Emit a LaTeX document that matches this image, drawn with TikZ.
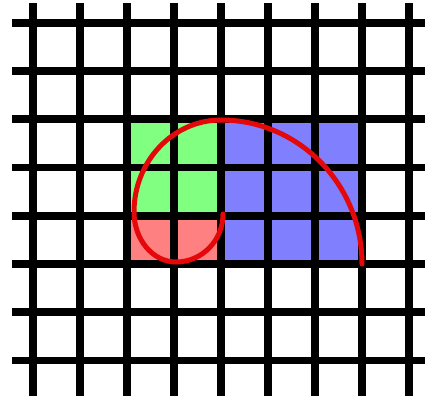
\documentclass[tikz,border=0pt]{standalone}
\definecolor{cellgreen}{RGB}{128,255,128}
\definecolor{cellblue}{RGB}{128,128,255}
\definecolor{cellred}{RGB}{255,128,128}
\definecolor{spiralred}{RGB}{228,8,10}
\tikzset{
  gridline/.style={line width=7.8pt, black},
  spiral/.style={line width=5pt, spiralred, line cap=round}
}
\begin{document}
\begin{tikzpicture}[x=47pt,y=48.2pt]
\useasboundingbox (-33pt,-38.6pt) rectangle (392pt,360.4pt);
\fill[white] (-33pt,-38.6pt) rectangle (392pt,360.4pt);
% coloured cells
\fill[cellgreen] (2,3) rectangle (4,5);
\fill[cellred] (2,2) rectangle (4,3);
\fill[cellblue] (4,2) rectangle (7,5);
% grid
\foreach \i in {0,...,8} \draw[gridline] (\i,-35.6pt) -- (\i,357.4pt);
\foreach \j in {0,...,7} \draw[gridline] (-21pt,\j) -- (392pt,\j);
% spiral
\draw[spiral] (7,2)
  arc[start angle=0, end angle=90, x radius=141pt, y radius=144pt]
  arc[start angle=90, end angle=180, x radius=87pt, y radius=92pt]
  arc[start angle=180, end angle=270, x radius=42pt, y radius=50pt]
  arc[start angle=270, end angle=360, x radius=47pt, y radius=48pt];
\end{tikzpicture}
\end{document}
